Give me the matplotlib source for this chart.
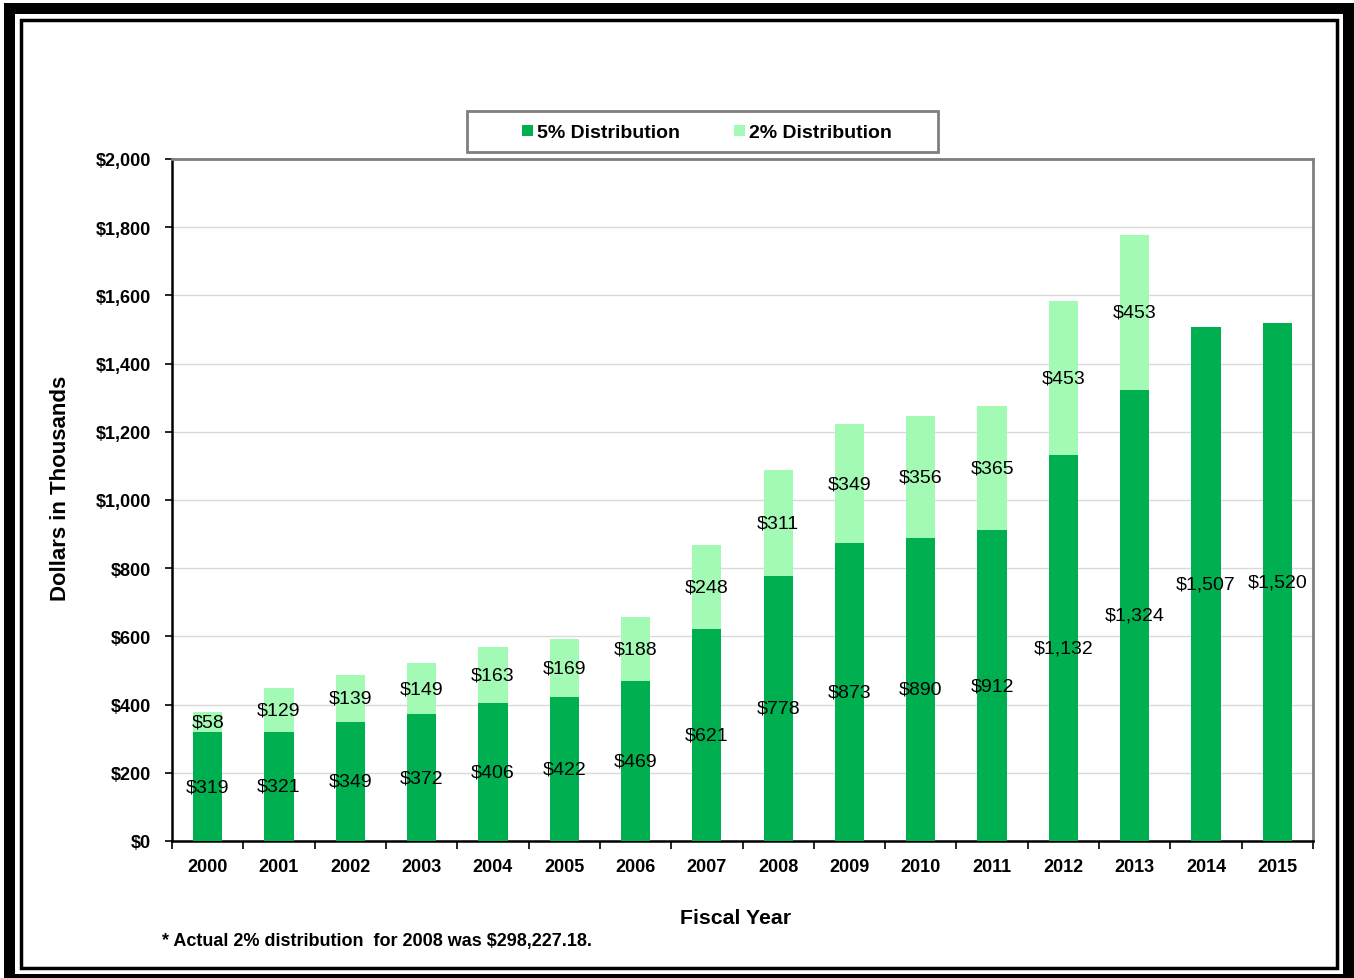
import matplotlib.pyplot as plt
from matplotlib.patches import Rectangle

years = ['2000', '2001', '2002', '2003', '2004', '2005', '2006', '2007',
         '2008', '2009', '2010', '2011', '2012', '2013', '2014', '2015']
five_pct = [319, 321, 349, 372, 406, 422, 469, 621, 778, 873, 890, 912, 1132, 1324, 1507, 1520]
two_pct = [58, 129, 139, 149, 163, 169, 188, 248, 311, 349, 356, 365, 453, 453, 0, 0]
yticks = [0, 200, 400, 600, 800, 1000, 1200, 1400, 1600, 1800, 2000]

dark = '#00b050'
light = '#a3fab5'
bold = {'family': 'Liberation Sans', 'weight': 'bold'}

W, H = 1354, 979
fig = plt.figure(figsize=(W / 100, H / 100), dpi=100)


def px(x0, y0, x1, y1):
    # pixel box (top-left origin) -> figure fraction rect
    return (x0 / W, 1 - y1 / H, (x1 - x0) / W, (y1 - y0) / H)


# double frame round the picture
for x0, y0, x1, y1 in [(4, 4, 15, 979), (4, 4, 1354, 15), (1343, 4, 1354, 979), (4, 975, 1354, 979)]:
    l, b, w, h = px(x0, y0, x1, y1)
    fig.patches.append(Rectangle((l, b), w, h, transform=fig.transFigure,
                                 facecolor='black', edgecolor='none'))
l, b, w, h = px(20.5, 20.5, 1336.5, 968.5)
fig.patches.append(Rectangle((l, b), w, h, transform=fig.transFigure,
                             facecolor='none', edgecolor='black', linewidth=2.5))

ax = fig.add_axes(px(172, 160, 1313, 842))
x = list(range(len(years)))
b1 = ax.bar(x, five_pct, width=0.41, color=dark, label='5% Distribution', zorder=3)
b2 = ax.bar(x, two_pct, width=0.41, bottom=five_pct, color=light,
            label='2% Distribution', zorder=3)

ax.bar_label(b1, labels=['${:,}'.format(v) for v in five_pct], label_type='center',
             fontsize=14, family='Liberation Sans', zorder=4)
ax.bar_label(b2, labels=['${:,}'.format(v) if v else '' for v in two_pct],
             label_type='center', fontsize=14, family='Liberation Sans', zorder=4)

ax.set_xlim(-0.5, len(years) - 0.5)
ax.set_ylim(0, 2000)
ax.set_yticks(yticks)
ax.set_yticklabels(['${:,}'.format(v) for v in yticks], fontdict=bold, fontsize=13)
ax.set_xticks(x)
ax.set_xticklabels(years, fontdict=bold, fontsize=13)
ax.set_xticks([i - 0.5 for i in range(len(years) + 1)], minor=True)
ax.tick_params(axis='x', which='major', length=0, pad=12)
ax.tick_params(axis='x', which='minor', length=6, width=1.2, direction='out')
ax.tick_params(axis='y', length=5, width=1.2, pad=10)
ax.grid(axis='y', color='#d9d9d9', linewidth=1, zorder=0)
for s in ['left', 'bottom']:
    ax.spines[s].set_linewidth(1.8)
for s in ['top', 'right']:
    ax.spines[s].set_color('#7f7f7f')
    ax.spines[s].set_linewidth(2)

fig.text(60 / W, 1 - 488 / H, 'Dollars in Thousands', rotation=90, ha='center',
         va='center', fontsize=16, **bold)
fig.text(736 / W, 1 - 919 / H, 'Fiscal Year', ha='center', va='center', fontsize=15.3, **bold)
fig.text(162 / W, 1 - 942 / H, '* Actual 2% distribution  for 2008 was $298,227.18.',
         ha='left', va='center', fontsize=13, **bold)

# legend box
l, b, w, h = px(467, 112, 938, 153)
fig.patches.append(Rectangle((l, b), w, h, transform=fig.transFigure,
                             facecolor='white', edgecolor='#7f7f7f', linewidth=2))
fig.legend(handles=[b1, b2], loc='center', bbox_to_anchor=(707 / W, 1 - 134 / H),
           ncol=2, frameon=False, columnspacing=2.8, handlelength=0.55,
           handleheight=0.55, handletextpad=0.2, prop={'family': 'Liberation Sans',
                                                       'weight': 'bold', 'size': 14})

fig.savefig('out.png', dpi=100)
